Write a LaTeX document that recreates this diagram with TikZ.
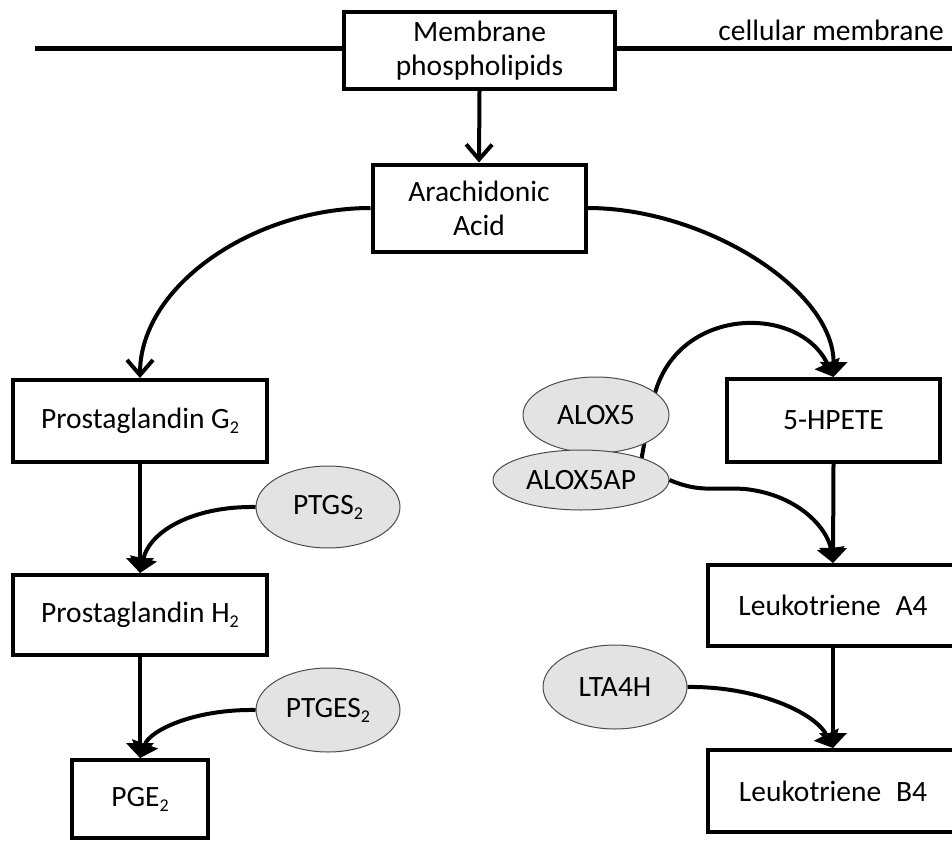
\documentclass[tikz,border=0pt]{standalone}
\usepackage{fontspec}
\setmainfont{Carlito}
\usetikzlibrary{arrows.meta,shapes.geometric}
\newcommand\lowsub[1]{\raisebox{-5pt}{\fontsize{18}{18}\selectfont #1}}
\tikzset{
  stepbox/.style={draw=black,line width=4pt,fill=white,align=center,inner sep=0pt,
    font=\fontsize{29.5}{34}\selectfont},
  enzyme/.style={ellipse,draw=black!70,line width=1pt,fill=black!11,inner sep=0pt,
    font=\fontsize{29.5}{34}\selectfont},
  conn/.style={line width=4pt},
  barb/.style={conn,-{Straight Barb[length=15pt,width=26pt,line width=4pt]}},
  tri/.style={conn,-{Triangle[length=15pt,width=27pt]}},
}
\begin{document}
\begin{tikzpicture}[x=1pt,y=-1pt]
\useasboundingbox (0,0) rectangle (952,840);
\clip (0,0) rectangle (952,840);
% membrane
\coordinate (ml) at (35,49);
\coordinate (mr) at (952,49);
\draw[line width=5pt] (ml) -- (mr);
\node[font=\fontsize{29.5}{34}\selectfont] (cm) at (831,30) {cellular membrane};
% boxes
\node[stepbox,minimum width=271pt,minimum height=77pt] (mp) at (479.5,50.5) {Membrane\\phospholipids};
\node[stepbox,minimum width=213pt,minimum height=87pt] (aa) at (479,208) {Arachidonic\\Acid};
\node[stepbox,minimum width=254pt,minimum height=82pt] (pgg) at (140,421) {Prostaglandin G\lowsub{2}};
\node[stepbox,minimum width=254pt,minimum height=80pt] (pgh) at (140,615) {Prostaglandin H\lowsub{2}};
\node[stepbox,minimum width=136pt,minimum height=78pt] (pge) at (140,799) {PGE\lowsub{2}};
\node[stepbox,minimum width=213pt,minimum height=83pt] (hpete) at (833.5,420.5) {5-HPETE};
\node[stepbox,minimum width=250pt,minimum height=81pt] (lta) at (833,605.5) {Leukotriene\enspace A4};
\node[stepbox,minimum width=250pt,minimum height=82pt] (ltb) at (833,791) {Leukotriene\enspace B4};
% ALOX5 curve (behind ellipses)
\coordinate (a5s) at (638,478);
\draw[tri] (a5s) .. controls (645,440) and (649,414) .. (655,393)
   .. controls (680,305) and (800,305) .. (hpete.north);
% enzymes
\node[enzyme,minimum width=144pt,minimum height=82pt] (ptgs) at (328,507) {PTGS\lowsub{2}};
\node[enzyme,minimum width=144pt,minimum height=84pt] (ptges) at (328,710) {PTGES\lowsub{2}};
\node[enzyme,minimum width=146pt,minimum height=76pt] (alox5) at (596,415) {ALOX5};
\node[enzyme,minimum width=176pt,minimum height=60pt] (alox5ap) at (581,480) {ALOX5AP};
\node[enzyme,minimum width=144pt,minimum height=84pt] (lta4h) at (615,687) {LTA4H};
% connectors
\draw[barb] (mp.south) -- (aa.north);
\draw[barb] (aa.west) .. controls (255,208) and (140,285) .. (pgg.north);
\draw[tri] (aa.east) .. controls (705,208) and (834,290) .. (hpete.north);
\draw[tri] (pgg.south) -- (pgh.north);
\draw[tri] (ptgs.west) .. controls (195,506) and (150,530) .. (pgh.north);
\draw[tri] (pgh.south) -- (pge.north);
\draw[tri] (ptges.west) .. controls (195,709) and (150,730) .. (pge.north);
\draw[tri] (hpete.south) -- (lta.north);
\draw[tri] (alox5ap.east) .. controls (700,493) and (715,487) .. (745,489)
   .. controls (800,495) and (828,530) .. (lta.north);
\draw[tri] (lta.south) -- (ltb.north);
\draw[tri] (lta4h.east) .. controls (755,686) and (815,712) .. (ltb.north);
\end{tikzpicture}
\end{document}
